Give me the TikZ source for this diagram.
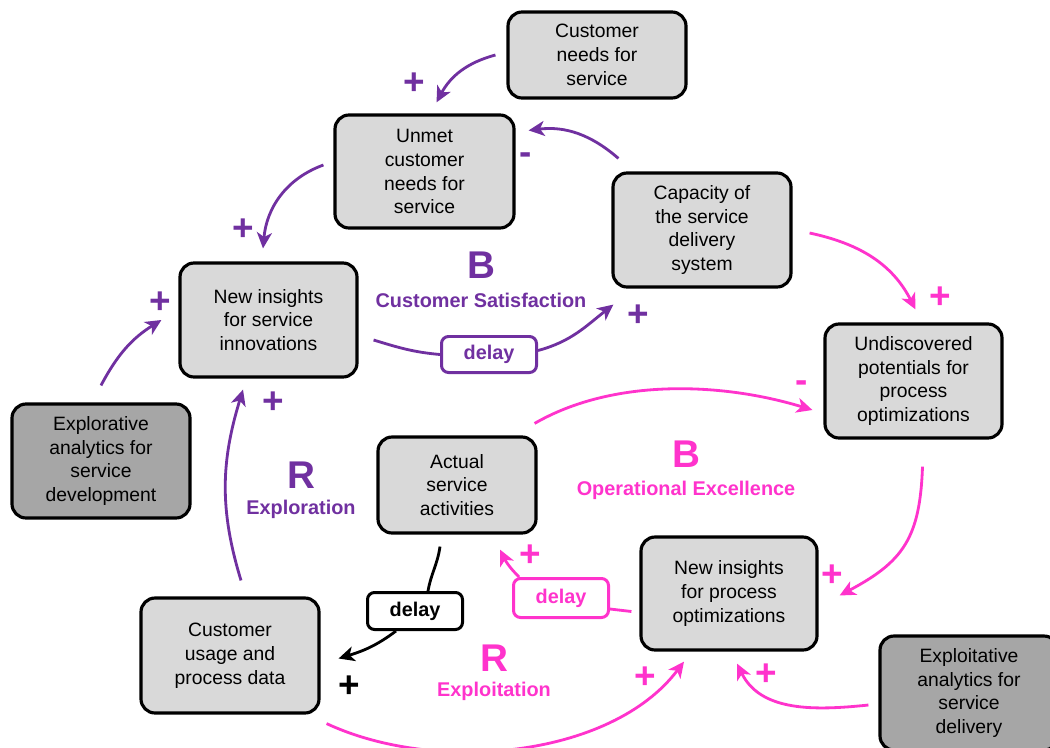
\documentclass[tikz,border=0pt]{standalone}
\usepackage{fontspec}
\setmainfont{Liberation Sans}
\usetikzlibrary{arrows.meta,calc}
\definecolor{cpurple}{HTML}{7030A0}
\definecolor{cpink}{HTML}{FF33CC}
\definecolor{boxgray}{HTML}{D9D9D9}
\definecolor{darkbox}{HTML}{A6A6A6}
\begin{document}
\begin{tikzpicture}[x=0.02cm,y=0.02cm,
  box/.style={draw=black, line width=1.8pt, rounded corners=8pt, fill=boxgray, align=center, inner sep=0pt, font=\fontsize{11}{13.6}\selectfont},
  dims/.style 2 args={minimum width=#1*0.02cm, minimum height=#2*0.02cm},
  dbox/.style={draw=#1, text=#1, line width=1.7pt, rounded corners=4pt, fill=white, inner sep=0pt, font=\fontsize{11.3}{13}\bfseries},
  conn/.style={line width=1.6pt, -{Stealth[length=9pt,width=8.5pt,inset=2.5pt]}},
  seg/.style={line width=1.6pt},
  sign/.style={font=\fontsize{21}{21}\bfseries, text=#1, inner sep=0pt},
  bigl/.style={font=\fontsize{22}{22}\bfseries, text=#1, inner sep=0pt},
  loopname/.style={font=\fontsize{11.3}{13}\bfseries, text=#1, inner sep=0pt}]
\useasboundingbox (0,0) rectangle (1050,-747);
\fill[white] (0,0) rectangle (1050,-747);
% boxes
\node[box,dims={178}{86}] (cn) at (597,-55) {Customer\\needs for\\service};
\node[box,dims={179}{113}] (un) at (424.5,-171.5) {Unmet\\customer\\needs for\\service};
\node[box,dims={178}{114}] (cap) at (702,-230) {Capacity of\\the service\\delivery\\system};
\node[box,dims={177}{114}] (nis) at (268.5,-320) {New insights\\for service\\innovations};
\node[box,dims={177}{114}] (und) at (913.5,-381) {Undiscovered\\potentials for\\process\\optimizations};
\node[box,fill=darkbox,dims={178}{114}] (exd) at (101,-461) {Explorative\\analytics for\\service\\development};
\node[box,dims={158}{96}] (act) at (457,-485) {Actual\\service\\activities};
\node[box,dims={176}{113}] (nip) at (729,-593.5) {New insights\\for process\\optimizations};
\node[box,dims={178}{115}] (cud) at (230,-655.5) {Customer\\usage and\\process data};
\node[box,fill=darkbox,dims={178}{114}] (exs) at (969,-693) {Exploitative\\analytics for\\service\\delivery};
% delay boxes
\node[dbox=cpurple,dims={95}{36}] (dp) at (489,-354.5) {delay};
\node[dbox=black,dims={95}{37}] (dk) at (415,-611) {delay};
\node[dbox=cpink,dims={95}{39}] (dm) at (561,-598) {delay};
% purple connectors
\draw[conn,cpurple] ($(cn.west)+(-11,0)$) to[out=195,in=62] ($(un.north)+(12,11)$);
\draw[conn,cpurple] ($(cap.north west)+(7,13)$) to[out=139,in=7] ($(un.north east)+(13,-17)$);
\draw[conn,cpurple] ($(un.west)+(-10,6.5)$) to[out=200,in=85] ($(nis.north)+(-5.5,13)$);
\draw[conn,cpurple] ($(exd.north)+(0,17)$) to[out=62,in=212] ($(nis.west)+(-17,0)$);
\draw[conn,cpurple] ($(cud.north)+(11,16)$) to[out=107,in=253] ($(nis.south)+(-25.5,-11)$);
\draw[seg,cpurple] ($(nis.east)+(15,-20)$) to[out=-17,in=175] (dp.west);
\draw[conn,cpurple] ($(dp.east)+(0,4)$) to[out=15,in=218] ($(cap.south west)+(2,-16)$);
% pink connectors
\draw[conn,cpink] ($(cap.east)+(17,-3)$) to[out=-12,in=117] ($(und.north)+(2,13)$);
\draw[conn,cpink] ($(act.north east)+(-3,12)$) to[out=30,in=163,looseness=0.85] ($(und.west)+(-11,-29)$);
\draw[conn,cpink] ($(und.south)+(9,-27)$) to[out=-92,in=28,looseness=1.2] ($(nip.east)+(21,-2)$);
\draw[seg,cpink] ($(nip.west)+(-8,-18)$) -- ($(dm.east)+(0,-11)$);
\draw[conn,cpink] ($(dm.north west)+(7,0)$) to[out=135,in=296] ($(act.south)+(43,-15)$);
\draw[conn,cpink] ($(cud.south east)+(6,-9)$) to[out=-25,in=233,looseness=0.85] ($(nip.south)+(-45,-10)$);
\draw[conn,cpink] ($(exs.west)+(-10,-12)$) to[out=186,in=296] ($(nip.south)+(8,-12)$);
% black connectors
\draw[seg,black] ($(act.south)+(-17,-12)$) to[out=-98,in=80] ($(dk.north)+(13,0)$);
\draw[conn,black] ($(dk.south)+(-19,0)$) to[out=217,in=17] ($(cud.east)+(18,-3)$);
% signs
\node[sign=cpurple] (s1) at (414,-84) {+};
\node[sign=cpurple] (s2) at (526,-159) {-};
\node[sign=cpurple] (s3) at (243,-230) {+};
\node[sign=cpurple] (s4) at (160,-303) {+};
\node[sign=cpurple] (s5) at (273,-403) {+};
\node[sign=cpurple] (s6) at (638,-316) {+};
\node[sign=cpink] (s7) at (940,-298) {+};
\node[sign=cpink] (s8) at (802,-387) {-};
\node[sign=cpink] (s9) at (832,-576) {+};
\node[sign=cpink] (s10) at (530,-556) {+};
\node[sign=black] (s11) at (349,-687) {+};
\node[sign=cpink] (s12) at (645,-678) {+};
\node[sign=cpink] (s13) at (766,-675) {+};
% loop labels
\node[bigl=cpurple] (lb1) at (481,-265) {B};
\node[loopname=cpurple] (ln1) at (481,-300) {Customer Satisfaction};
\node[bigl=cpink] (lb2) at (686,-454) {B};
\node[loopname=cpink] (ln2) at (686,-490) {Operational Excellence};
\node[bigl=cpurple] (lr1) at (301,-475) {R};
\node[loopname=cpurple] (lr1n) at (301,-509) {Exploration};
\node[bigl=cpink] (lr2) at (494,-658) {R};
\node[loopname=cpink] (lr2n) at (494,-691) {Exploitation};
\end{tikzpicture}
\end{document}
